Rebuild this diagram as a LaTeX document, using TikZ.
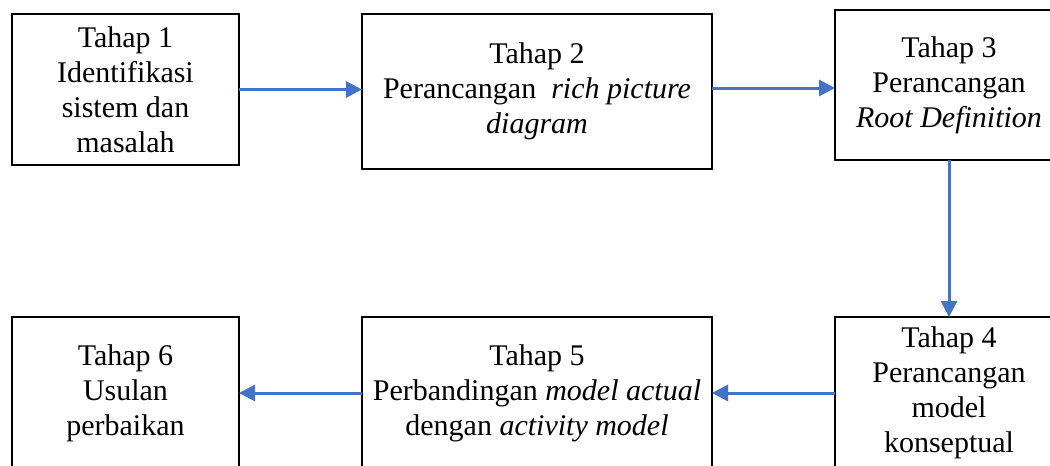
\documentclass[tikz,border=0pt]{standalone}
\usepackage{fontspec}
\setmainfont{Liberation Serif}
\usetikzlibrary{arrows.meta}
\definecolor{stageBlue}{HTML}{4472C4}
\tikzset{
  stage diagram/.style={
    x=1pt, y=-1pt,
    >={Triangle[length=16pt,width=16pt]},
    every node/.style={font=\fontsize{30}{35}\selectfont,
      text=black, inner sep=0pt, outer sep=0pt}
  },
  stage box/.style={draw=black, line width=1.5pt, align=center, anchor=north west},
  stage arrow/.style={->, draw=stageBlue, line width=3pt}
}
\begin{document}
\begin{tikzpicture}[stage diagram]
    \useasboundingbox (0,0) rectangle (1050,466);
    \clip (0,0) rectangle (1050,466);
    \node[stage box,minimum width=227pt,minimum height=151pt] (tahap1) at (12,14)
      {Tahap 1\\Identifikasi\\sistem dan\\masalah};
    \node[stage box,minimum width=350pt,minimum height=155pt] (tahap2) at (362,14)
      {Tahap 2\\Perancangan\ \ \textit{rich picture}\\\textit{diagram}};
    \node[stage box,minimum width=228pt,minimum height=150pt] (tahap3) at (835,10)
      {Tahap 3\\Perancangan\\\textit{Root Definition}};
    \node[stage box,minimum width=228pt,minimum height=152pt] (tahap4) at (835,317)
      {Tahap 4\\Perancangan\\model\\konseptual};
    \node[stage box,minimum width=350pt,minimum height=152pt] (tahap5) at (362,317)
      {Tahap 5\\Perbandingan \textit{model actual}\\dengan \textit{activity model}};
    \node[stage box,minimum width=227pt,minimum height=152pt] (tahap6) at (12,317)
      {Tahap 6\\Usulan\\perbaikan};
    \draw[stage arrow] (tahap1.east) -- (tahap1.east -| tahap2.west);
    \draw[stage arrow] ([yshift=-3pt]tahap3.west -| tahap2.east) -- ([yshift=-3pt]tahap3.west);
    \draw[stage arrow] (tahap3.south) -- (tahap4.north);
    \draw[stage arrow] (tahap4.west) -- (tahap5.east);
    \draw[stage arrow] (tahap5.west) -- (tahap6.east);
  \end{tikzpicture}
\end{document}
